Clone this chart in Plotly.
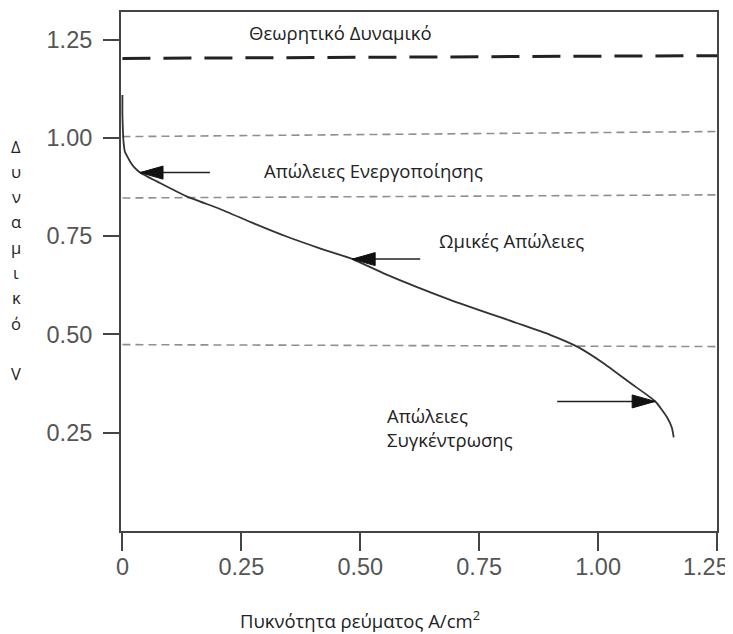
import plotly.graph_objects as go

# ---- data ----
current_density = [0.000, 0.000, 0.001, 0.002, 0.003, 0.005, 0.0095, 0.016, 0.024, 0.037,
                   0.079, 0.135, 0.205, 0.275, 0.345, 0.415, 0.485, 0.548, 0.689, 0.829,
                   0.899, 0.956, 1.010, 1.067, 1.120, 1.144, 1.155, 1.159]
cell_voltage = [1.109, 1.058, 1.020, 0.995, 0.982, 0.965, 0.954, 0.940, 0.926, 0.912,
                0.885, 0.851, 0.819, 0.783, 0.749, 0.719, 0.691, 0.656, 0.588, 0.529,
                0.499, 0.469, 0.428, 0.377, 0.330, 0.291, 0.263, 0.238]

ref_x = [0.0, 1.25]
theoretical_v = [1.202, 1.209]
guide_v_upper = [1.003, 1.016]
guide_v_middle = [0.847, 0.855]
guide_v_lower = [0.474, 0.469]

x_tickvals = [0, 0.25, 0.50, 0.75, 1.00, 1.25]
x_ticktext = ["0", "0.25", "0.50", "0.75", "1.00", "1.25"]
y_tickvals = [0.25, 0.50, 0.75, 1.00, 1.25]
y_ticktext = ["0.25", "0.50", "0.75", "1.00", "1.25"]

label_texts = ["Θεωρητικό Δυναμικό", "Απώλειες Ενεργοποίησης", "Ωμικές Απώλειες",
               "Απώλειες<br>Συγκέντρωσης"]
label_x = [0.459, 0.527, 0.819, 0.552]
label_y = [1.267, 0.918, 0.740, 0.264]
label_anchor = ["center", "center", "center", "left"]

arrow_tail_x = [0.184, 0.626, 0.914]
arrow_tip_x = [0.037, 0.483, 1.120]
arrow_y = [0.9115, 0.6915, 0.3296]

x_title = "Πυκνότητα ρεύματος A/cm<sup>2</sup>"
x_title_pos = 0.5
y_title_letters = ["Δ", "υ", "ν", "α", "μ", "ι", "κ", "ό", "", "V"]

TEXT_FONT = "Open Sans, Noto Sans, sans-serif"
TICK_FONT = "Liberation Sans, Arial, sans-serif"
TICK_FONT_SIZE = 23.5
TICK_COLOR = "#555555"

fig = go.Figure()

# reference dashed lines
fig.add_trace(go.Scatter(x=ref_x, y=theoretical_v, mode="lines",
                         line=dict(color="#222222", width=3, dash="28px,13px"),
                         showlegend=False, hoverinfo="skip"))
for gv in (guide_v_upper, guide_v_middle, guide_v_lower):
    fig.add_trace(go.Scatter(x=ref_x, y=gv, mode="lines",
                             line=dict(color="#8f8f8f", width=1.6, dash="8px,5px"),
                             showlegend=False, hoverinfo="skip"))

# polarization curve
fig.add_trace(go.Scatter(x=current_density, y=cell_voltage, mode="lines",
                         line=dict(color="#333333", width=1.8, shape="spline", smoothing=0.5),
                         showlegend=False))

annotations = []
for t, x, y, a in zip(label_texts, label_x, label_y, label_anchor):
    annotations.append(dict(text=t, x=x, y=y, xref="x", yref="y", showarrow=False,
                            xanchor=a, yanchor="middle", align="left",
                            font=dict(family=TEXT_FONT, size=18.5, color="#222222")))

# x-axis title (centred under x = 0.5 as in the reference)
annotations.append(dict(text=x_title, x=x_title_pos, xref="x", y=-0.1696, yref="paper",
                        xanchor="center", yanchor="middle", showarrow=False,
                        font=dict(family=TEXT_FONT, size=18.5, color="#222222")))

# last x tick label: in the reference it is pulled left so it stays inside the image
annotations.append(dict(text=x_ticktext[-1], x=x_tickvals[-1], xref="x",
                        y=-0.0694, yref="paper", xanchor="right", yanchor="middle",
                        xshift=14, showarrow=False,
                        font=dict(family=TICK_FONT, size=TICK_FONT_SIZE, color=TICK_COLOR)))
x_ticktext_axis = x_ticktext[:-1] + [""]

# stacked y-axis title
for i, ch in enumerate(y_title_letters):
    if ch == "":
        continue
    py = 146 + 25.3 * i
    annotations.append(dict(text=ch, xref="paper", yref="paper", x=0, xshift=-105,
                            y=(531 - py) / 519, xanchor="center", yanchor="middle",
                            showarrow=False,
                            font=dict(family=TEXT_FONT, size=16.5, color="#222222")))

shapes = []
for tx, hx, ay in zip(arrow_tail_x, arrow_tip_x, arrow_y):
    shapes.append(dict(type="line", xref="x", yref="y", x0=tx, x1=hx, y0=ay, y1=ay,
                       line=dict(color="#222222", width=1.5)))
    d = 1 if tx > hx else -1
    shapes.append(dict(type="path", xref="x", yref="y", xsizemode="pixel", ysizemode="pixel",
                       xanchor=hx, yanchor=ay,
                       path=f"M 0 0 L {23*d} 6.5 L {23*d} -6.5 Z",
                       fillcolor="#111111", line=dict(color="#111111", width=1)))

axis_common = dict(showline=True, linecolor="#444444", linewidth=2, mirror=True,
                   ticks="outside", tickwidth=2, tickcolor="#444444",
                   showgrid=False, zeroline=False, automargin=False,
                   tickfont=dict(family=TICK_FONT, size=TICK_FONT_SIZE, color=TICK_COLOR))

# the page body adds an 8px offset; figure size/margins compensate for it
fig.update_layout(
    width=745, height=626, autosize=False,
    margin=dict(l=113, r=36, t=4, b=103),
    paper_bgcolor="white", plot_bgcolor="white",
    xaxis=dict(range=[-0.003, 1.25], tickvals=x_tickvals, ticktext=x_ticktext_axis,
               ticklen=18, ticklabelstandoff=-4, **axis_common),
    yaxis=dict(range=[0, 1.32], tickvals=y_tickvals, ticktext=y_ticktext,
               ticklen=16, ticklabelstandoff=6, **axis_common),
    annotations=annotations,
    shapes=shapes,
    showlegend=False,
)

fig.write_html("out.html")
